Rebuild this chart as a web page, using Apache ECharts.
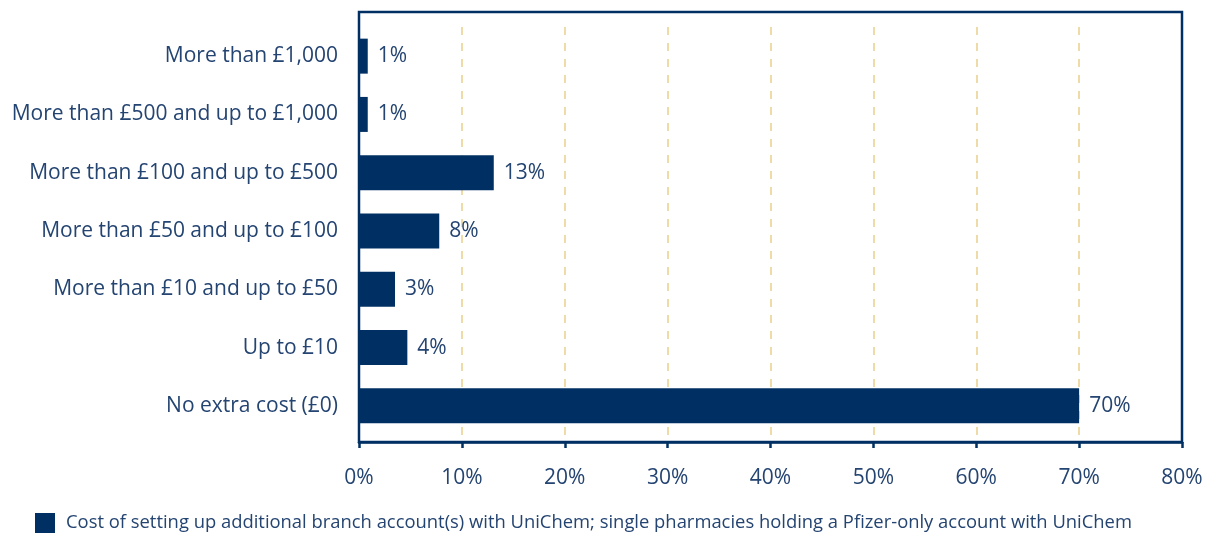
<!DOCTYPE html>
<html>
<head>
<meta charset="utf-8">
<script src="https://cdn.jsdelivr.net/npm/echarts@6/dist/echarts.min.js"></script>
<style>
  html, body { margin: 0; padding: 0; background: #fff; }
  #chart { width: 1216px; height: 534px; }
</style>
</head>
<body>
<div id="chart"></div>
<script>
// categories, bottom to top
const categories = [
  'No extra cost (£0)',
  'Up to £10',
  'More than £10 and up to £50',
  'More than £50 and up to £100',
  'More than £100 and up to £500',
  'More than £500 and up to £1,000',
  'More than £1,000'
]
// bar lengths as drawn (percent)
const barValues = [70.0, 4.7, 3.5, 7.8, 13.1, 0.85, 0.85]
// printed labels
const barLabels = ['70%', '4%', '3%', '8%', '13%', '1%', '1%']
const xTicks = [0, 10, 20, 30, 40, 50, 60, 70, 80]
const seriesName = 'Cost of setting up additional branch account(s) with UniChem; single pharmacies holding a Pfizer-only account with UniChem'

const navy = '#003063'
const textColor = '#244471'
const font = 'Open Sans'

const chart = echarts.init(document.getElementById('chart'))
chart.setOption({
  backgroundColor: '#fff',
  animation: false,
  textStyle: { fontFamily: font },
  legend: {
    left: 35,
    top: 513,
    itemWidth: 20,
    itemHeight: 20,
    itemGap: 10,
    padding: 0,
    icon: 'rect',
    textStyle: { color: textColor, fontSize: 18.4, fontFamily: font, padding: [0, 0, 0, 6] },
    data: [seriesName]
  },
  grid: [
    // frame box
    {
      left: 359,
      right: 34,
      top: 12,
      bottom: 92,
      show: true,
      z: 5,
      borderColor: navy,
      borderWidth: 2.5,
      backgroundColor: 'transparent'
    },
    // data area
    {
      left: 359,
      right: 34,
      top: 27,
      bottom: 99
    }
  ],
  xAxis: {
    gridIndex: 1,
    type: 'value',
    min: xTicks[0],
    max: xTicks[xTicks.length - 1],
    interval: 10,
    offset: 7,
    axisLine: { show: true, lineStyle: { color: navy, width: 2.5 } },
    axisTick: { show: true, length: 6, lineStyle: { color: navy, width: 2.5 } },
    axisLabel: {
      color: textColor,
      fontSize: 21,
      margin: 26,
      formatter: '{value}%'
    },
    splitLine: {
      show: true,
      lineStyle: { color: '#e9cf8c', width: 1.5, type: [8, 8] }
    }
  },
  yAxis: {
    gridIndex: 1,
    type: 'category',
    data: categories,
    axisLine: { show: false },
    axisTick: { show: false },
    axisLabel: { color: textColor, fontSize: 21, margin: 21 }
  },
  series: [{
    name: seriesName,
    type: 'bar',
    xAxisIndex: 0,
    yAxisIndex: 0,
    data: barValues,
    barWidth: 35,
    itemStyle: { color: navy },
    label: {
      show: true,
      position: 'right',
      distance: 10,
      color: textColor,
      fontSize: 21,
      formatter: p => barLabels[p.dataIndex]
    }
  }]
})
</script>
</body>
</html>
